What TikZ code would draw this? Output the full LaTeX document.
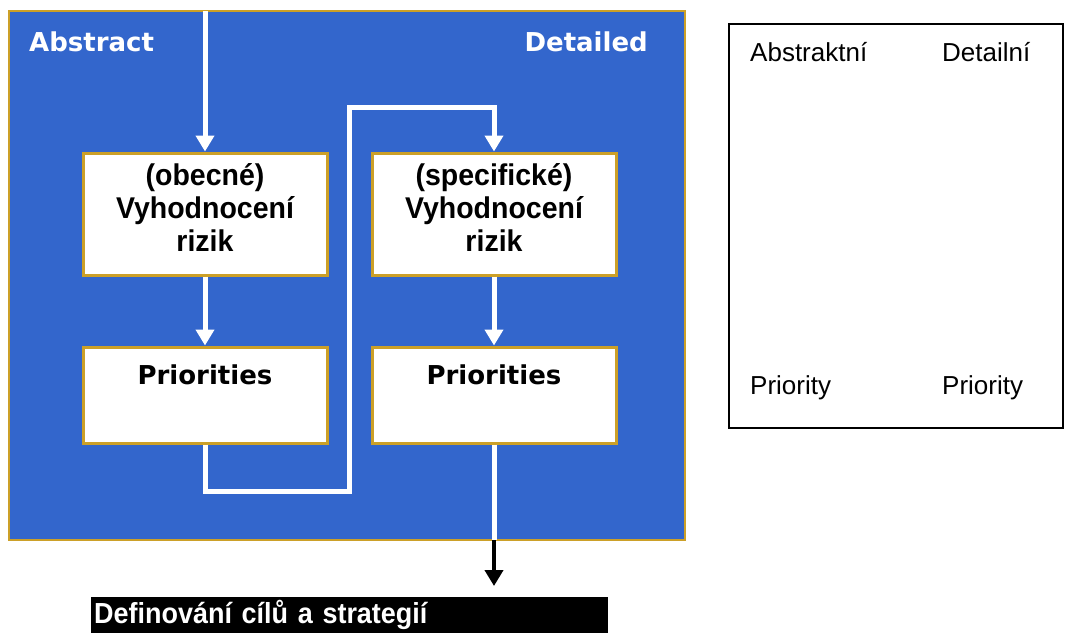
\documentclass[tikz,border=0pt]{standalone}
\usepackage{fontspec}
\setmainfont{Liberation Sans}
\newfontfamily\verdana{DejaVu Sans}
\newfontfamily\narrowarial[FakeStretch=0.95]{Liberation Sans}
\newfontfamily\goalfont[FakeStretch=0.93]{Liberation Sans}
\usepackage{xcolor}
\usepackage{tikz}
\usetikzlibrary{arrows.meta}

\definecolor{panelblue}{RGB}{51,102,204}
\definecolor{gold}{RGB}{204,160,40}

\begin{document}
\begin{tikzpicture}[
  x=1pt, y=-1pt,
  panel/.style={draw=gold, line width=1.5pt, fill=panelblue, inner sep=0pt,
                minimum width=676pt, minimum height=529pt},
  box/.style={draw=gold, line width=3pt, fill=white, inner sep=0pt,
              minimum width=244pt, align=center},
  risk/.style={box, minimum height=122pt, text depth=14pt,
               font=\fontsize{30}{33}\selectfont\narrowarial\bfseries},
  prio/.style={box, minimum height=96pt, text height=37pt, text depth=59pt,
               font=\fontsize{26}{31}\selectfont\verdana\bfseries},
  side/.style={font=\fontsize{26}{31}\selectfont\verdana\bfseries,
               text=white, inner sep=0pt},
  flow/.style={draw=white, line width=5pt,
               -{Triangle[width=18pt,length=16pt]}},
  wline/.style={draw=white, line width=5pt},
  exit/.style={draw=black, line width=4.5pt,
               -{Triangle[width=18pt,length=16pt]}},
  goal/.style={fill=black, text=white, anchor=north west, inner xsep=3pt,
               inner ysep=0pt, text width=511pt, align=left,
               text height=26pt, text depth=10pt,
               font=\fontsize{29}{31}\selectfont\goalfont\bfseries},
  legend/.style={draw, line width=1.2pt, minimum width=334pt,
                 minimum height=404pt},
  ltxt/.style={anchor=west, inner sep=0pt, font=\fontsize{26}{30}\selectfont}
]
  \useasboundingbox (0,0) rectangle (1066,633);

  % Blue panel
  \node[panel] (panel) at (347,275.5) {};
  \node[side, anchor=west] (abs) at (29,42) {Abstract};
  \node[side, anchor=east] (det) at (648,42) {Detailed};

  % Boxes
  \node[risk] (a1) at (205,214) {(obecné)\\Vyhodnocení\\rizik};
  \node[risk] (r1) at (494,214) {(specifické)\\Vyhodnocení\\rizik};
  \node[prio] (p1) at (205,395) {Priorities};
  \node[prio] (p2) at (494,395) {Priorities};

  % Turning points and ends
  \coordinate (in)       at (205,11);
  \coordinate (lowturn)  at (349,491);
  \coordinate (highturn) at (349,107);
  \coordinate (out)      at (494,540);
  \coordinate (tip)      at (494,586);

  % Flow
  \draw[flow] (in) -- (a1.north);
  \draw[flow] (a1.south) -- (p1.north);
  \draw[flow] (p1.south) |- (lowturn) -- (highturn) -| (r1.north);
  \draw[flow] (r1.south) -- (p2.north);
  \draw[wline] (p2.south) -- (out);
  \draw[exit] (out) -- (tip);

  % Result
  \node[goal] (def) at (91,597) {Definování cílů a strategií};

  % Legend box
  \node[legend] (leg) at (896,226) {};
  \node[ltxt] (labs) at (750,52) {Abstraktní};
  \node[ltxt] (ldet) at (942,52) {Detailní};
  \node[ltxt] (lpa)  at (750,388) {Priority};
  \node[ltxt] (lpd)  at (942,388) {Priority};
\end{tikzpicture}
\end{document}
